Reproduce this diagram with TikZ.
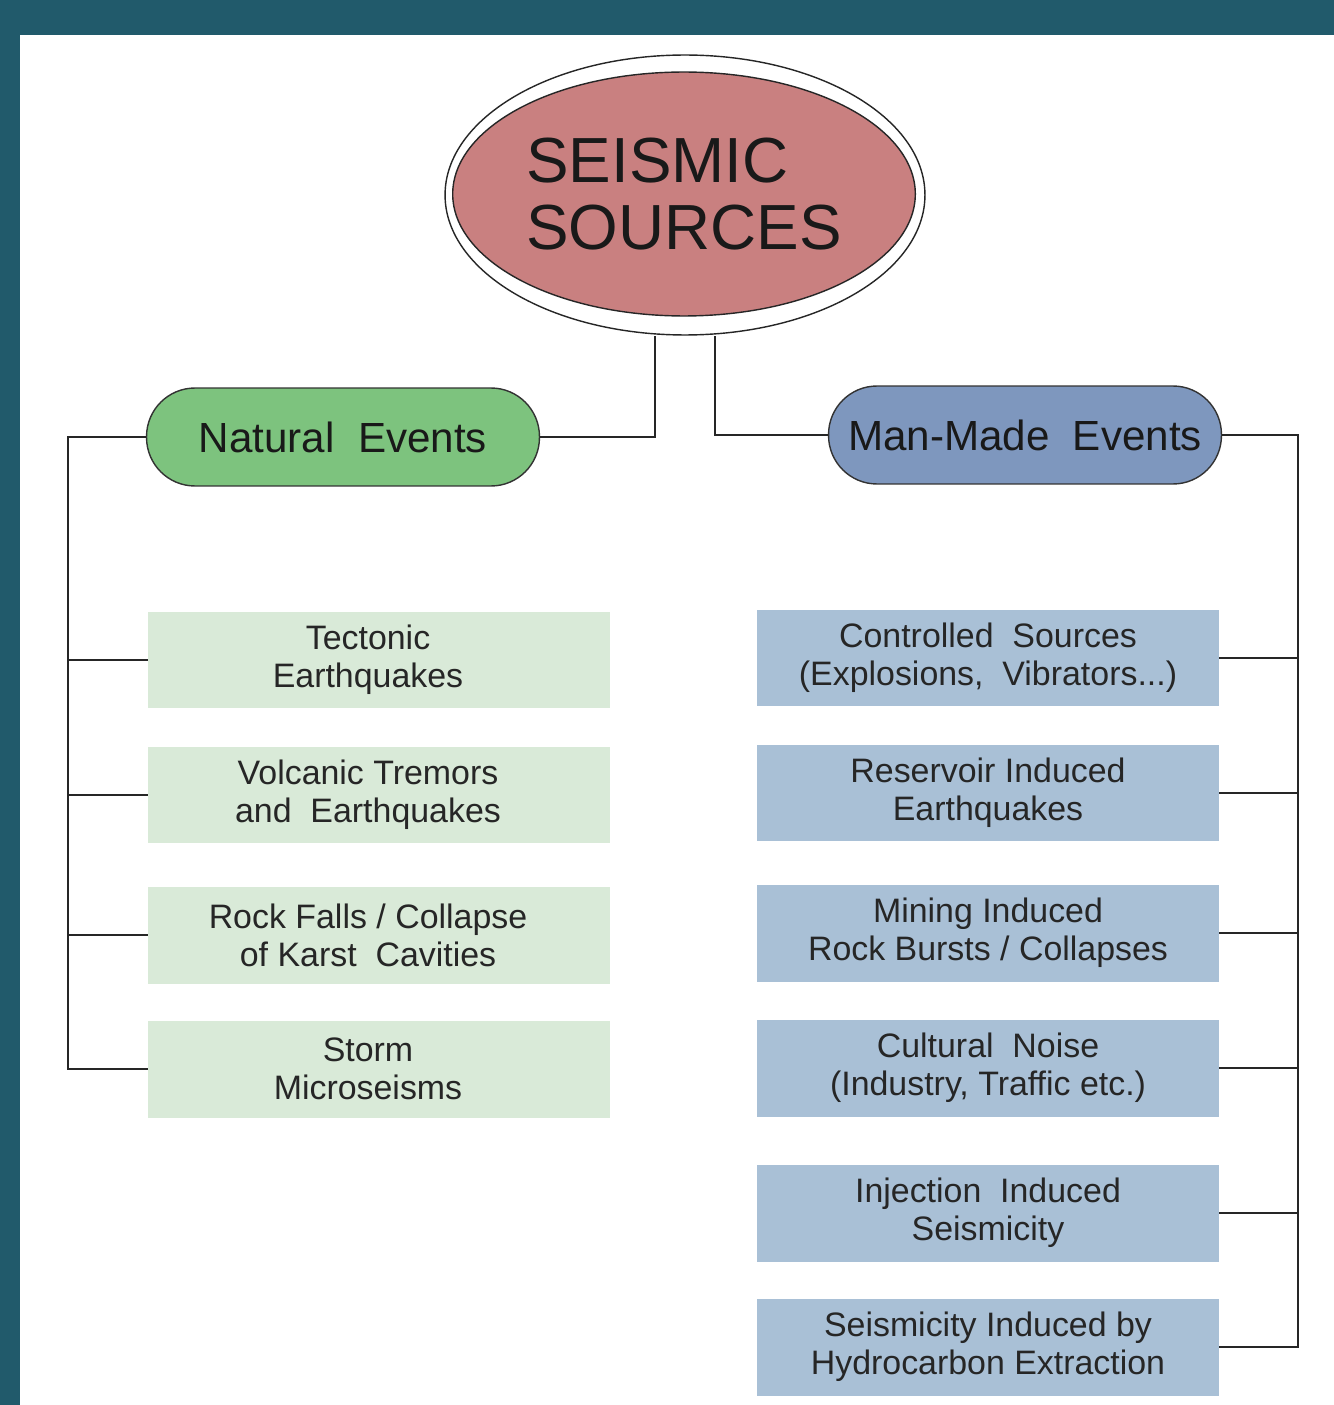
\documentclass[tikz,border=0pt]{standalone}
\usepackage{fontspec}
\setmainfont{Liberation Sans}
\usetikzlibrary{shapes.geometric}
\definecolor{teal1}{RGB}{33,90,107}
\definecolor{pink1}{RGB}{201,128,128}
\definecolor{green1}{RGB}{125,195,126}
\definecolor{green2}{RGB}{217,234,216}
\definecolor{blue1}{RGB}{126,151,190}
\definecolor{blue2}{RGB}{169,192,214}
\begin{document}
\begin{tikzpicture}[%
    x=0.02cm,
    y=-0.02cm,
    cloud1/.style={
      draw=black!85,
      line width=0.8pt,
      ellipse,
      fill=white,
      minimum width=9.6cm,
      minimum height=5.6cm
    },
    cloud2/.style={
      draw=black!85,
      line width=0.8pt,
      ellipse,
      fill=pink1,
      text=black!90,
      align=left,
      minimum width=8.86cm,
      minimum height=4.88cm,
      font=\fontsize{36.3}{38}\selectfont
    },
    pill/.style={
      rectangle,
      draw=black!80,
      line width=0.8pt,
      rounded corners=0.97cm,
      text=black!90,
      minimum width=7.86cm,
      minimum height=1.96cm,
      font=\fontsize{24}{26}\selectfont
    },
    block/.style={
      rectangle,
      text=black!85,
      text width=8.8cm,
      inner xsep=0.22cm,
      align=flush center,
      minimum width=9.24cm,
      minimum height=1.94cm,
      font=\fontsize{19.3}{21.5}\selectfont
    },
    block1/.style={
      block,
      fill=green2,
      execute at begin node={\advance\rightskip by 0.44cm}
    },
    block2/.style={
      block,
      fill=blue2
    },
    line/.style={
      draw=black!85,
      line width=1.5pt
    }
  ]
    % frame
    \fill[teal1] (0,0) rectangle (1334,1405);
    \fill[white] (20,35) rectangle (1334,1405);
    \useasboundingbox (0,0) rectangle (1334,1405);

    \draw (685,195) node[cloud1] (outer) {};
    \draw (684,194) node[cloud2] (seis) {SEISMIC\\SOURCES};

    \draw (343,437) node[pill, fill=green1] (nat) {Natural~~Events};
    \draw (1025,435) node[pill, fill=blue1] (man) {Man-Made~~Events};

    \draw (379,660) node[block1] (tect) {Tectonic\\Earthquakes};
    \draw (379,795) node[block1] (volc) {Volcanic Tremors\\and~~Earthquakes};
    \draw (379,935) node[block1] (rock) {Rock Falls / Collapse\\of Karst~~Cavities};
    \draw (379,1069) node[block1] (storm) {Storm\\Microseisms};

    \draw (988,658) node[block2] (contr) {Controlled~~Sources\\(Explosions,~~Vibrators...)};
    \draw (988,793) node[block2] (resv) {Reservoir Induced\\Earthquakes};
    \draw (988,933) node[block2] (mine) {Mining Induced\\Rock Bursts / Collapses};
    \draw (988,1068) node[block2] (cult) {Cultural~~Noise\\(Industry, Traffic etc.)};
    \draw (988,1213) node[block2] (inj) {Injection~~Induced\\Seismicity};
    \draw (988,1347) node[block2] (hydro) {Seismicity Induced by\\Hydrocarbon Extraction};

    \coordinate (lt) at (68,437);
    \coordinate (rt) at (1298,435);

    \path[line] (nat.east) -| ([xshift=-0.6cm]outer.south);
    \path[line] (man.west) -| ([xshift=0.6cm]outer.south);

    \path[line] (nat.west) -- (lt) |- (storm.west);
    \foreach \n in {tect,volc,rock}
      \path[line] (\n.west) -- (\n.west -| lt);

    \path[line] (man.east) -- (rt) |- (hydro.east);
    \foreach \n in {contr,resv,mine,cult,inj}
      \path[line] (\n.east) -- (\n.east -| rt);

  \end{tikzpicture}
\end{document}
